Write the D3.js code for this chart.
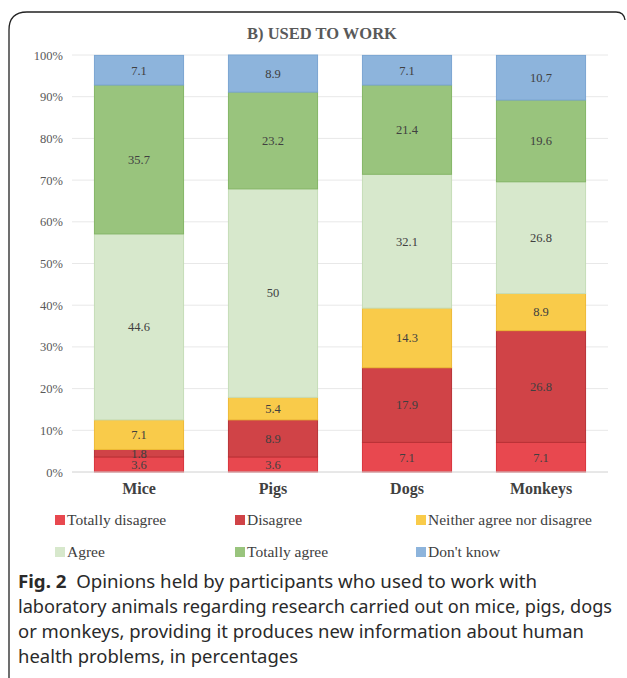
<!DOCTYPE html>
<html><head><meta charset="utf-8">
<script src="https://cdn.jsdelivr.net/npm/d3@7"></script>
<style>body{margin:0;background:#fff}svg{display:block}</style>
</head><body>
<svg id="c" width="627" height="678"></svg>
<script>
const categories = ["Mice", "Pigs", "Dogs", "Monkeys"];
const seriesNames = ["Totally disagree", "Disagree", "Neither agree nor disagree", "Agree", "Totally agree", "Don't know"];
const totallyDisagree = [3.6, 3.6, 7.1, 7.1];
const disagree = [1.8, 8.9, 17.9, 26.8];
const neither = [7.1, 5.4, 14.3, 8.9];
const agree = [44.6, 50, 32.1, 26.8];
const totallyAgree = [35.7, 23.2, 21.4, 19.6];
const dontKnow = [7.1, 8.9, 7.1, 10.7];
const tickValues = [0, 10, 20, 30, 40, 50, 60, 70, 80, 90, 100];
const colors = ["#E8484F", "#D04347", "#F9CB4A", "#D7E8CC", "#99C47D", "#8DB4DC"];
const strokes = ["#D8333B", "#B83236", "#EDBA35", "#C5DDB8", "#84B566", "#7AA5D2"];
const captionLines = [
  ["Fig. 2", "  Opinions held by participants who used to work with"],
  ["", "laboratory animals regarding research carried out on mice, pigs, dogs"],
  ["", "or monkeys, providing it produces new information about human"],
  ["", "health problems, in percentages"]
];
const captionWidths = [519, 594, 566, 280];

const seriesValues = [totallyDisagree, disagree, neither, agree, totallyAgree, dontKnow];
const rows = categories.map((c, i) => {
  const r = {cat: c};
  seriesNames.forEach((s, j) => r[s] = seriesValues[j][i]);
  return r;
});
const stacked = d3.stack().keys(seriesNames)(rows);

const svg = d3.select("#c");
const serif = "'Liberation Serif', 'DejaVu Serif', serif";

// frame
svg.append("path")
  .attr("d", "M9,678 L9,30 Q9,12 27,12 L616,12 Q624,12 625,20")
  .attr("fill", "none").attr("stroke", "#222").attr("stroke-width", 1.3);

const x = d3.scaleBand().domain(categories).range([72, 608]).paddingInner(0.335).paddingOuter(0.1675);
const y = d3.scaleLinear().domain([0, 100]).range([472, 55]).clamp(true);

// gridlines
svg.append("g").selectAll("line").data(tickValues.filter(t => t > 0)).join("line")
  .attr("x1", 72).attr("x2", 608).attr("y1", d => y(d)).attr("y2", d => y(d))
  .attr("stroke", "#e8e8e8").attr("stroke-width", 1);

// y axis labels
const yAxis = d3.axisLeft(y).tickValues(tickValues).tickSize(0).tickPadding(0).tickFormat(d => d + "%");
const ya = svg.append("g").attr("transform", "translate(63,0)").call(yAxis);
ya.select(".domain").remove();
ya.selectAll("text").attr("font-family", serif).attr("font-size", 12.5).attr("fill", "#595959");

// bars
const g = svg.append("g");
stacked.forEach((layer, j) => {
  g.append("g").selectAll("rect").data(layer).join("rect")
    .attr("x", d => x(d.data.cat))
    .attr("width", x.bandwidth())
    .attr("y", d => y(d[1]))
    .attr("height", d => y(d[0]) - y(d[1]))
    .attr("fill", colors[j]).attr("stroke", strokes[j]).attr("stroke-width", 1);
});
// labels
stacked.forEach((layer, j) => {
  g.append("g").selectAll("text").data(layer).join("text")
    .attr("x", d => x(d.data.cat) + x.bandwidth() / 2)
    .attr("y", d => (y(d[0]) + y(d[1])) / 2)
    .attr("dy", "0.35em")
    .attr("text-anchor", "middle")
    .attr("font-family", serif).attr("font-size", 12.5).attr("fill", "#404040")
    .text(d => d[1] - d[0] > 0 ? d.data[layer.key] : "");
});

// baseline
svg.append("line").attr("x1", 72).attr("x2", 608).attr("y1", y(0)).attr("y2", y(0))
  .attr("stroke", "#d0d0d0").attr("stroke-width", 1);

// x axis
const xAxis = d3.axisBottom(x).tickSize(0).tickPadding(0);
const xa = svg.append("g").attr("transform", "translate(0,482)").call(xAxis);
xa.select(".domain").remove();
xa.selectAll("text").attr("font-family", serif).attr("font-size", 16).attr("font-weight", "bold")
  .attr("fill", "#404040").attr("dy", "0.72em");

// title
svg.append("text").attr("x", 322).attr("y", 39).attr("text-anchor", "middle")
  .attr("font-family", serif).attr("font-size", 16.5).attr("font-weight", "bold").attr("fill", "#595959")
  .text("B) USED TO WORK");

// legend
const legX = [55, 235, 416];
const legY = [520, 552];
const leg = svg.append("g");
seriesNames.forEach((s, i) => {
  const lx = legX[i % 3], ly = legY[Math.floor(i / 3)];
  leg.append("rect").attr("x", lx).attr("y", ly - 5).attr("width", 10).attr("height", 10).attr("fill", colors[i]);
  leg.append("text").attr("x", lx + 12).attr("y", ly).attr("dy", "0.35em")
    .attr("font-family", serif).attr("font-size", 15.5).attr("fill", "#404040").text(s);
});

// caption
const cap = svg.append("g");
captionLines.forEach((ln, i) => {
  const t = cap.append("text").attr("x", 18).attr("y", 588 + i * 25)
    .attr("font-family", "'Noto Sans', 'Open Sans', sans-serif").attr("font-size", 17.5).attr("fill", "#2a2a2a")
    .attr("textLength", captionWidths[i]).attr("lengthAdjust", "spacingAndGlyphs")
    .attr("xml:space", "preserve");
  if (ln[0]) t.append("tspan").attr("font-weight", "bold").text(ln[0]);
  t.append("tspan").text(ln[1]);
});
</script>
</body></html>
